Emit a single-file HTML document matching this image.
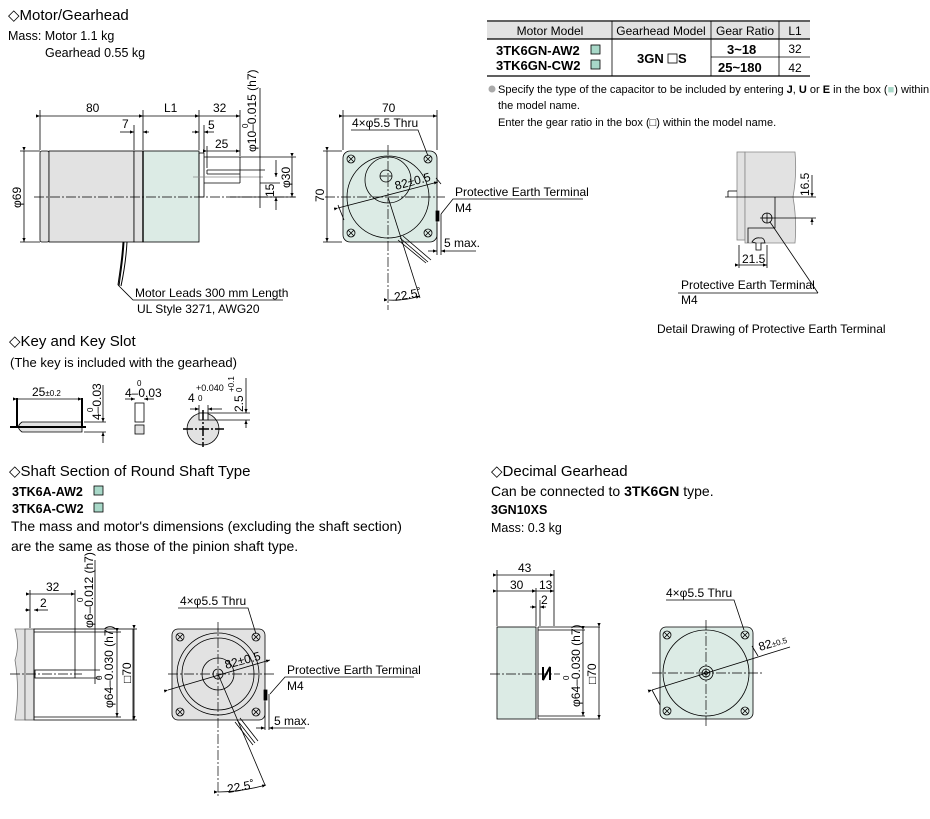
<!DOCTYPE html>
<html><head><meta charset="utf-8"><style>
html,body{margin:0;padding:0;background:#fff;}
svg{display:block;font-family:"Liberation Sans",sans-serif;}
.t{font-size:13px;fill:#000}
.h{font-size:15px;fill:#000}
.d{font-size:12px;fill:#000}
.b{font-weight:bold}
line,path,rect,circle,polyline{stroke:#000;stroke-width:0.8;fill:none}
.c{stroke-dasharray:10 2 2 2;stroke-width:0.7}
.k{stroke-width:2}
.gr{fill:#e2e2e2}
.gn{fill:#dcebe5}
</style></head><body>
<svg width="930" height="819" viewBox="0 0 930 819" xmlns="http://www.w3.org/2000/svg">
<defs><marker id="a" markerWidth="6" markerHeight="6" refX="5" refY="3" orient="auto"><path d="M0,1 L5,3 L0,5" style="fill:#000;stroke:none"/></marker></defs>

<text class="h" x="8" y="20">◇Motor/Gearhead</text>
<text class="t" x="8" y="40" style="font-size:12.5px">Mass: Motor 1.1 kg</text>
<text class="t" x="45" y="57" style="font-size:12.5px">Gearhead 0.55 kg</text>

<rect class="gr" x="40" y="151" width="9" height="91" rx="2"/>
<rect class="gr" x="49" y="151" width="85" height="91"/>
<rect class="gr" x="134" y="151" width="9" height="91"/>
<rect class="gn" x="143" y="151" width="56" height="91"/>
<line x1="143" y1="151" x2="143" y2="242" style="stroke-width:1.4"/>
<rect x="199" y="153" width="5" height="44"/>
<line x1="204" y1="157" x2="240" y2="157"/>
<line x1="207" y1="170" x2="240" y2="170"/><line x1="207" y1="170" x2="207" y2="174"/>
<line x1="207" y1="174" x2="240" y2="174"/>
<line x1="193" y1="177" x2="263" y2="177" style="stroke:#888"/>
<line x1="204" y1="183" x2="240" y2="183"/>
<line x1="240" y1="157" x2="240" y2="183"/>
<line class="c" x1="34" y1="197" x2="295" y2="197"/>
<path d="M123,242 C122,260 120,270 118,285 M127,242 C126,260 124,272 121,286 M124,242 C123,260 121,270 119,286" style="stroke-width:1"/>
<polyline points="118,285 133,300 283,300"/>
<text class="t" x="135" y="297" style="font-size:12px">Motor Leads 300 mm Length</text>
<text class="t" x="137" y="313" style="font-size:12px">UL Style 3271, AWG20</text>
<line x1="40" y1="110" x2="40" y2="150"/><line x1="143" y1="110" x2="143" y2="150"/>
<line x1="199" y1="110" x2="199" y2="150"/><line x1="240" y1="110" x2="240" y2="156"/>
<line x1="40" y1="116" x2="143" y2="116" marker-start="url(#a)" marker-end="url(#a)"/>
<line x1="143" y1="116" x2="199" y2="116" marker-start="url(#a)" marker-end="url(#a)"/>
<line x1="199" y1="116" x2="240" y2="116" marker-start="url(#a)" marker-end="url(#a)"/>
<text class="d" x="86" y="112">80</text><text class="d" x="164" y="112">L1</text><text class="d" x="213" y="112">32</text>
<line x1="134" y1="125" x2="134" y2="150"/>
<line x1="120" y1="132" x2="134" y2="132" marker-end="url(#a)"/><line x1="149" y1="132" x2="143" y2="132" marker-end="url(#a)"/>
<text class="d" x="122" y="128">7</text>
<line x1="204" y1="125" x2="204" y2="152"/>
<line x1="192" y1="132" x2="199" y2="132" marker-end="url(#a)"/><line x1="214" y1="132" x2="204" y2="132" marker-end="url(#a)"/>
<text class="d" x="208" y="129">5</text>
<line x1="207" y1="146" x2="207" y2="168"/>
<line x1="207" y1="151" x2="240" y2="151" marker-start="url(#a)" marker-end="url(#a)"/>
<text class="d" x="215" y="148">25</text>
<line x1="260" y1="88" x2="260" y2="208" /><line x1="240" y1="170" x2="265" y2="170"/>
<text class="d" transform="translate(256,152) rotate(-90)">φ10–0.015 (h7)</text>
<text class="d" style="font-size:8px" transform="translate(248,128) rotate(-90)">0</text>
<line x1="260" y1="183" x2="280" y2="183"/>
<line x1="276" y1="160" x2="276" y2="177" marker-end="url(#a)"/>
<line x1="276" y1="210" x2="276" y2="197" marker-end="url(#a)"/>
<text class="d" transform="translate(274,197) rotate(-90)">15</text>
<line x1="240" y1="157" x2="296" y2="157"/><line x1="230" y1="197" x2="296" y2="197"/>
<line x1="292" y1="157" x2="292" y2="197" marker-start="url(#a)" marker-end="url(#a)"/>
<text class="d" transform="translate(290,188) rotate(-90)">φ30</text>
<line x1="20" y1="151" x2="40" y2="151"/><line x1="20" y1="242" x2="40" y2="242"/>
<line x1="24" y1="151" x2="24" y2="242" marker-start="url(#a)" marker-end="url(#a)"/>
<text class="d" transform="translate(21,208) rotate(-90)">φ69</text>

<rect class="gn" x="343" y="151" width="94" height="91" rx="7"/>
<circle cx="388" cy="197" r="41"/>
<circle cx="388" cy="180" r="23"/>
<circle cx="386" cy="176" r="6"/><line x1="380" y1="176" x2="392" y2="176"/>
<g style="stroke-width:0.7"><circle cx="351" cy="159" r="4"/><path d="M348,156 L354,162 M354,156 L348,162"/>
<circle cx="428" cy="159" r="4"/><path d="M425,156 L431,162 M431,156 L425,162"/>
<circle cx="351" cy="233" r="4"/><path d="M348,230 L354,236 M354,230 L348,236"/>
<circle cx="428" cy="233" r="4"/><path d="M425,230 L431,236 M431,230 L425,236"/></g>
<line class="c" x1="325" y1="197" x2="445" y2="197"/>
<line class="c" x1="388" y1="145" x2="388" y2="310"/>
<line x1="338" y1="208" x2="438" y2="182" marker-start="url(#a)" marker-end="url(#a)"/>
<text class="d" transform="translate(396,190) rotate(-15)">82±0.5</text>
<path d="M338,205 L344,220 M436,178 L441,184"/>
<line x1="388" y1="197" x2="420" y2="298"/>
<path d="M400,238 L428,262 M403,236 L431,260 M398,240 L426,263"/>
<path d="M388,300 Q405,301 420,296" marker-start="url(#a)" marker-end="url(#a)"/>
<text class="d" transform="translate(395,301) rotate(-10)">22.5˚</text>
<rect x="436" y="211" width="3" height="10" style="fill:#000"/>
<line x1="441" y1="214" x2="441" y2="255"/><line x1="437" y1="223" x2="437" y2="255"/>
<line x1="428" y1="251" x2="437" y2="251" marker-end="url(#a)"/><line x1="476" y1="251" x2="441" y2="251" marker-end="url(#a)"/>
<text class="d" x="444" y="247">5 max.</text>
<polyline points="441,214 453,199 583,199"/>
<text class="d" x="455" y="196" style="font-size:12px">Protective Earth Terminal</text>
<text class="d" x="455" y="212" style="font-size:12px">M4</text>
<line x1="343" y1="110" x2="343" y2="150"/><line x1="437" y1="110" x2="437" y2="150"/>
<line x1="343" y1="116" x2="437" y2="116" marker-start="url(#a)" marker-end="url(#a)"/>
<text class="d" x="382" y="112">70</text>
<polyline points="351,130 418,130 428,156" />
<text class="d" x="352" y="127">4×φ5.5 Thru</text>
<line x1="323" y1="151" x2="342" y2="151"/><line x1="323" y1="242" x2="342" y2="242"/>
<line x1="327" y1="151" x2="327" y2="242" marker-start="url(#a)" marker-end="url(#a)"/>
<text class="d" transform="translate(324,202) rotate(-90)">70</text>

<rect x="487" y="22" width="323" height="17" style="fill:#e2e2e2;stroke:none"/>
<line x1="487" y1="21" x2="810" y2="21" style="stroke-width:1.2"/>
<line x1="487" y1="39" x2="810" y2="39" style="stroke-width:1.2"/>
<line x1="711" y1="57" x2="810" y2="57"/>
<line x1="487" y1="76" x2="810" y2="76" style="stroke-width:1.2"/>
<line x1="612" y1="21" x2="612" y2="76"/><line x1="711" y1="21" x2="711" y2="76"/><line x1="779" y1="21" x2="779" y2="76"/>
<g class="d" style="font-size:12px" text-anchor="middle">
<text x="550" y="35">Motor Model</text><text x="661" y="35">Gearhead Model</text><text x="745" y="35">Gear Ratio</text><text x="795" y="35">L1</text>
<text x="795" y="53">32</text><text x="795" y="72">42</text></g>
<g class="b" style="font-size:13px">
<text x="496" y="55">3TK6GN-AW2</text><text x="496" y="70">3TK6GN-CW2</text>
<text x="637" y="63">3GN</text><text x="678" y="63">S</text>
<text x="727" y="54">3~18</text><text x="718" y="72">25~180</text></g>
<rect x="591" y="45" width="9" height="9" style="fill:#a8d8c8"/><rect x="591" y="60" width="9" height="9" style="fill:#a8d8c8"/>
<rect x="668" y="54" width="9" height="9" style="fill:#fff"/>
<circle cx="492" cy="89" r="3.5" style="fill:#aaa;stroke:none"/>
<text class="d" x="498" y="93" style="font-size:11px">Specify the type of the capacitor to be included by entering <tspan class="b">J</tspan>, <tspan class="b">U</tspan> or <tspan class="b">E</tspan> in the box (<tspan fill="#a8d8c8">■</tspan>) within</text>
<text class="d" x="498" y="109" style="font-size:11px">the model name.</text>
<text class="d" x="498" y="126" style="font-size:11px">Enter the gear ratio in the box (□) within the model name.</text>

<rect class="gr" x="737" y="152" width="8" height="88" style="stroke:#888"/>
<path class="gr" d="M745,152 L795,152 Q797,175 793,197 Q797,220 795,243 L745,243 Z" style="stroke:#888"/>
<path d="M775,197 L775,228 L748,228 L748,243" />
<line x1="725" y1="197" x2="816" y2="197"/>
<line x1="728" y1="191" x2="737" y2="191"/><line x1="728" y1="191" x2="728" y2="197"/>
<circle cx="767" cy="218" r="5"/><path d="M762,218 H772 M767,213 V223"/>
<line x1="760" y1="218" x2="816" y2="218"/>
<line x1="812" y1="175" x2="812" y2="197" marker-end="url(#a)"/><line x1="812" y1="225" x2="812" y2="218" marker-end="url(#a)"/>
<text class="d" transform="translate(809,196) rotate(-90)">16.5</text>
<path d="M752,242 Q755,237 760,238 Q764,237 765,243 L761,243 L761,250 L756,250 L756,243 Z"/>
<line x1="739" y1="245" x2="739" y2="268"/><line x1="767" y1="245" x2="767" y2="268"/>
<line x1="739" y1="265" x2="767" y2="265" marker-start="url(#a)" marker-end="url(#a)"/>
<text class="d" x="742" y="263">21.5</text>
<line x1="770" y1="222" x2="818" y2="293"/>
<polyline points="678,293 818,293"/>
<text class="d" x="681" y="289" style="font-size:12px">Protective Earth Terminal</text>
<text class="d" x="681" y="304" style="font-size:12px">M4</text>
<text class="d" x="657" y="333" style="font-size:12px">Detail Drawing of Protective Earth Terminal</text>

<text class="h" x="9" y="346">◇Key and Key Slot</text>
<text class="t" x="10" y="367">(The key is included with the gearhead)</text>
<path class="gr" d="M22,422 L82,422 L82,432 L22,432 Q15,427 22,422Z"/>
<line class="k" x1="10" y1="427" x2="86" y2="427"/>
<line class="k" x1="17" y1="398" x2="17" y2="427"/><line class="k" x1="82" y1="398" x2="82" y2="427"/>
<line x1="17" y1="399" x2="82" y2="399" marker-start="url(#a)" marker-end="url(#a)"/>
<text class="d" x="32" y="396">25<tspan style="font-size:8px">±0.2</tspan></text>
<line x1="84" y1="422" x2="106" y2="422"/><line x1="84" y1="432" x2="106" y2="432"/>
<line x1="103" y1="385" x2="103" y2="422" marker-end="url(#a)"/><line x1="103" y1="443" x2="103" y2="432" marker-end="url(#a)"/>
<text class="d" transform="translate(101,420) rotate(-90)">4–0.03</text>
<text class="d" style="font-size:8px" transform="translate(93,412) rotate(-90)">0</text>
<rect x="135" y="403" width="9" height="19"/><rect class="gr" x="135" y="425" width="9" height="9"/>
<line x1="125" y1="399" x2="135" y2="399" marker-end="url(#a)"/><line x1="154" y1="399" x2="144" y2="399" marker-end="url(#a)"/>
<text class="d" x="125" y="397">4–0.03</text><text class="d" x="137" y="386" style="font-size:8px">0</text>
<circle class="gr" cx="203" cy="429" r="16"/>
<rect x="199" y="413" width="9" height="7" style="fill:#fff"/>
<line class="c" x1="183" y1="429" x2="224" y2="429" style="stroke-width:1.5"/>
<line class="c" x1="203" y1="410" x2="203" y2="447" style="stroke-width:1.5"/>
<line x1="199" y1="405" x2="199" y2="414"/><line x1="208" y1="405" x2="208" y2="414"/>
<line x1="190" y1="409" x2="199" y2="409" marker-end="url(#a)"/><line x1="222" y1="409" x2="208" y2="409" marker-end="url(#a)"/>
<text class="d" x="188" y="402">4</text><text class="d" x="196" y="391" style="font-size:9px">+0.040</text><text class="d" x="198" y="401" style="font-size:8px">0</text>
<line x1="208" y1="413" x2="250" y2="413"/><line x1="208" y1="420" x2="250" y2="420"/>
<line x1="246" y1="378" x2="246" y2="413" marker-end="url(#a)"/><line x1="246" y1="428" x2="246" y2="420" marker-end="url(#a)"/>
<text class="d" transform="translate(243,412) rotate(-90)">2.5</text><text class="d" style="font-size:8px" transform="translate(234,392) rotate(-90)">+0.1</text><text class="d" style="font-size:8px" transform="translate(242,392) rotate(-90)">0</text>

<text class="h" x="9" y="476">◇Shaft Section of Round Shaft Type</text>
<text class="b" x="12" y="496" style="font-size:12.5px">3TK6A-AW2</text>
<text class="b" x="12" y="513" style="font-size:12.5px">3TK6A-CW2</text>
<rect x="94" y="486" width="9" height="9" style="fill:#a8d8c8"/><rect x="94" y="503" width="9" height="9" style="fill:#a8d8c8"/>
<text class="t" x="11" y="531" style="font-size:14px">The mass and motor's dimensions (excluding the shaft section)</text>
<text class="t" x="11" y="551" style="font-size:14px">are the same as those of the pinion shaft type.</text>

<path class="gr" d="M25,629 L15,629 Q20,645 15,660 Q20,690 15,720 L25,720 Z" style="stroke:#777"/>
<rect class="gr" x="25" y="629" width="9" height="91" style="stroke:#555"/>
<rect x="34" y="629" width="99" height="91"/>
<line x1="34" y1="632" x2="118" y2="632"/><line x1="34" y1="717" x2="118" y2="717"/>
<line x1="75" y1="590" x2="75" y2="670"/>
<rect x="35" y="670" width="40" height="8"/>
<line class="c" x1="10" y1="674" x2="82" y2="674"/>
<line x1="30" y1="590" x2="30" y2="628"/>
<line x1="30" y1="594" x2="75" y2="594" marker-start="url(#a)" marker-end="url(#a)"/><text class="d" x="46" y="591">32</text>
<line x1="25" y1="610" x2="30" y2="610" marker-end="url(#a)"/><line x1="48" y1="610" x2="34" y2="610" marker-end="url(#a)"/><text class="d" x="40" y="607">2</text>
<line x1="95" y1="560" x2="95" y2="684"/><line x1="75" y1="670" x2="100" y2="670"/><line x1="75" y1="678" x2="100" y2="678"/>
<text class="d" transform="translate(93,628) rotate(-90)">φ6–0.012 (h7)</text><text class="d" style="font-size:8px" transform="translate(83,602) rotate(-90)">0</text>
<line x1="116" y1="632" x2="121" y2="632"/><line x1="116" y1="717" x2="121" y2="717"/>
<line x1="117" y1="632" x2="117" y2="717" marker-start="url(#a)" marker-end="url(#a)"/>
<text class="d" transform="translate(113,708) rotate(-90)">φ64–0.030 (h7)</text><text class="d" style="font-size:8px" transform="translate(102,680) rotate(-90)">0</text>
<line x1="133" y1="629" x2="137" y2="629"/><line x1="133" y1="720" x2="137" y2="720"/>
<line x1="134" y1="629" x2="134" y2="720" marker-start="url(#a)" marker-end="url(#a)"/>
<text class="d" transform="translate(131,683) rotate(-90)">□70</text>

<rect class="gr" x="172" y="629" width="93" height="91" rx="6"/>
<circle cx="218" cy="674" r="41"/><circle cx="218" cy="674" r="36"/><circle cx="218" cy="674" r="16"/><circle cx="218" cy="674" r="5"/>
<g style="stroke-width:0.7"><circle cx="180" cy="637" r="4"/><path d="M177,634 L183,640 M183,634 L177,640"/>
<circle cx="256" cy="637" r="4"/><path d="M253,634 L259,640 M259,634 L253,640"/>
<circle cx="180" cy="712" r="4"/><path d="M177,709 L183,715 M183,709 L177,715"/>
<circle cx="256" cy="712" r="4"/><path d="M253,709 L259,715 M259,709 L253,715"/></g>
<line class="c" x1="168" y1="674" x2="275" y2="674"/>
<line class="c" x1="218" y1="622" x2="218" y2="798"/>
<line x1="168" y1="690" x2="270" y2="660" marker-start="url(#a)" marker-end="url(#a)"/>
<text class="d" transform="translate(226,669) rotate(-15)">82±0.5</text>
<line x1="218" y1="674" x2="265" y2="785"/>
<path d="M237,720 L255,743 M240,718 L258,741 M235,722 L253,745"/>
<path d="M218,792 Q240,792 266,785" marker-start="url(#a)" marker-end="url(#a)"/>
<text class="d" transform="translate(228,793) rotate(-10)">22.5˚</text>
<rect x="264" y="690" width="3" height="10" style="fill:#000"/>
<line x1="269" y1="694" x2="269" y2="730"/><line x1="265" y1="702" x2="265" y2="730"/>
<line x1="256" y1="728" x2="265" y2="728" marker-end="url(#a)"/><line x1="305" y1="728" x2="269" y2="728" marker-end="url(#a)"/>
<text class="d" x="274" y="725">5 max.</text>
<polyline points="270,694 285,677 414,677"/>
<text class="d" x="287" y="674" style="font-size:12px">Protective Earth Terminal</text>
<text class="d" x="287" y="690" style="font-size:12px">M4</text>
<polyline points="178,608 248,608 256,634"/>
<text class="d" x="180" y="605">4×φ5.5 Thru</text>

<text class="h" x="491" y="476">◇Decimal Gearhead</text>
<text class="t" x="491" y="496" style="font-size:14px">Can be connected to <tspan class="b">3TK6GN</tspan> type.</text>
<text class="b" x="491" y="514" style="font-size:12.5px">3GN10XS</text>
<text class="t" x="491" y="532" style="font-size:12.5px">Mass: 0.3 kg</text>

<rect class="gn" x="497" y="627" width="39" height="92"/>
<line x1="538" y1="627" x2="538" y2="719"/>
<line x1="538" y1="627" x2="600" y2="627"/><line x1="538" y1="719" x2="600" y2="719"/>
<line x1="538" y1="630" x2="585" y2="630"/><line x1="538" y1="716" x2="585" y2="716"/>
<path d="M543,667 L543,680 L550,667 L550,680" style="stroke-width:2"/>
<line class="c" x1="490" y1="674" x2="560" y2="674"/>
<line x1="497" y1="570" x2="497" y2="626"/><line x1="554" y1="570" x2="554" y2="626"/><line x1="536" y1="588" x2="536" y2="626"/><line x1="540" y1="600" x2="540" y2="626"/>
<line x1="497" y1="575" x2="554" y2="575" marker-start="url(#a)" marker-end="url(#a)"/><text class="d" x="518" y="572">43</text>
<line x1="497" y1="591" x2="536" y2="591" marker-start="url(#a)" marker-end="url(#a)"/><line x1="536" y1="591" x2="554" y2="591" marker-start="url(#a)" marker-end="url(#a)"/>
<text class="d" x="510" y="589">30</text><text class="d" x="539" y="589">13</text>
<line x1="530" y1="607" x2="536" y2="607" marker-end="url(#a)"/><line x1="546" y1="607" x2="540" y2="607" marker-end="url(#a)"/><text class="d" x="541" y="604">2</text>
<line x1="583" y1="630" x2="583" y2="716" marker-start="url(#a)" marker-end="url(#a)"/>
<text class="d" transform="translate(580,707) rotate(-90)">φ64–0.030 (h7)</text><text class="d" style="font-size:8px" transform="translate(569,680) rotate(-90)">0</text>
<line x1="599" y1="627" x2="599" y2="719" marker-start="url(#a)" marker-end="url(#a)"/>
<text class="d" transform="translate(596,684) rotate(-90)">□70</text>

<rect class="gn" x="660" y="627" width="93" height="92" rx="6"/>
<circle cx="706" cy="673" r="43"/><circle cx="706" cy="673" r="7"/><circle cx="706" cy="673" r="4"/><circle cx="706" cy="673" r="1.5"/>
<g style="stroke-width:0.7"><circle cx="667" cy="635" r="4"/><path d="M664,632 L670,638 M670,632 L664,638"/>
<circle cx="745" cy="635" r="4"/><path d="M742,632 L748,638 M748,632 L742,638"/>
<circle cx="667" cy="711" r="4"/><path d="M664,708 L670,714 M670,708 L664,714"/>
<circle cx="745" cy="711" r="4"/><path d="M742,708 L748,714 M748,708 L742,714"/></g>
<line class="c" x1="652" y1="673" x2="762" y2="673"/>
<line class="c" x1="706" y1="620" x2="706" y2="727"/>
<line x1="652" y1="690" x2="790" y2="647" marker-start="url(#a)"/>
<path d="M652,690 L660,705 M758,656 L752,646"/>
<text class="d" transform="translate(760,651) rotate(-17)">82<tspan style="font-size:8px">±0.5</tspan></text>
<polyline points="666,600 734,600 744,630"/>
<text class="d" x="666" y="597">4×φ5.5 Thru</text>
</svg>
</body></html>
